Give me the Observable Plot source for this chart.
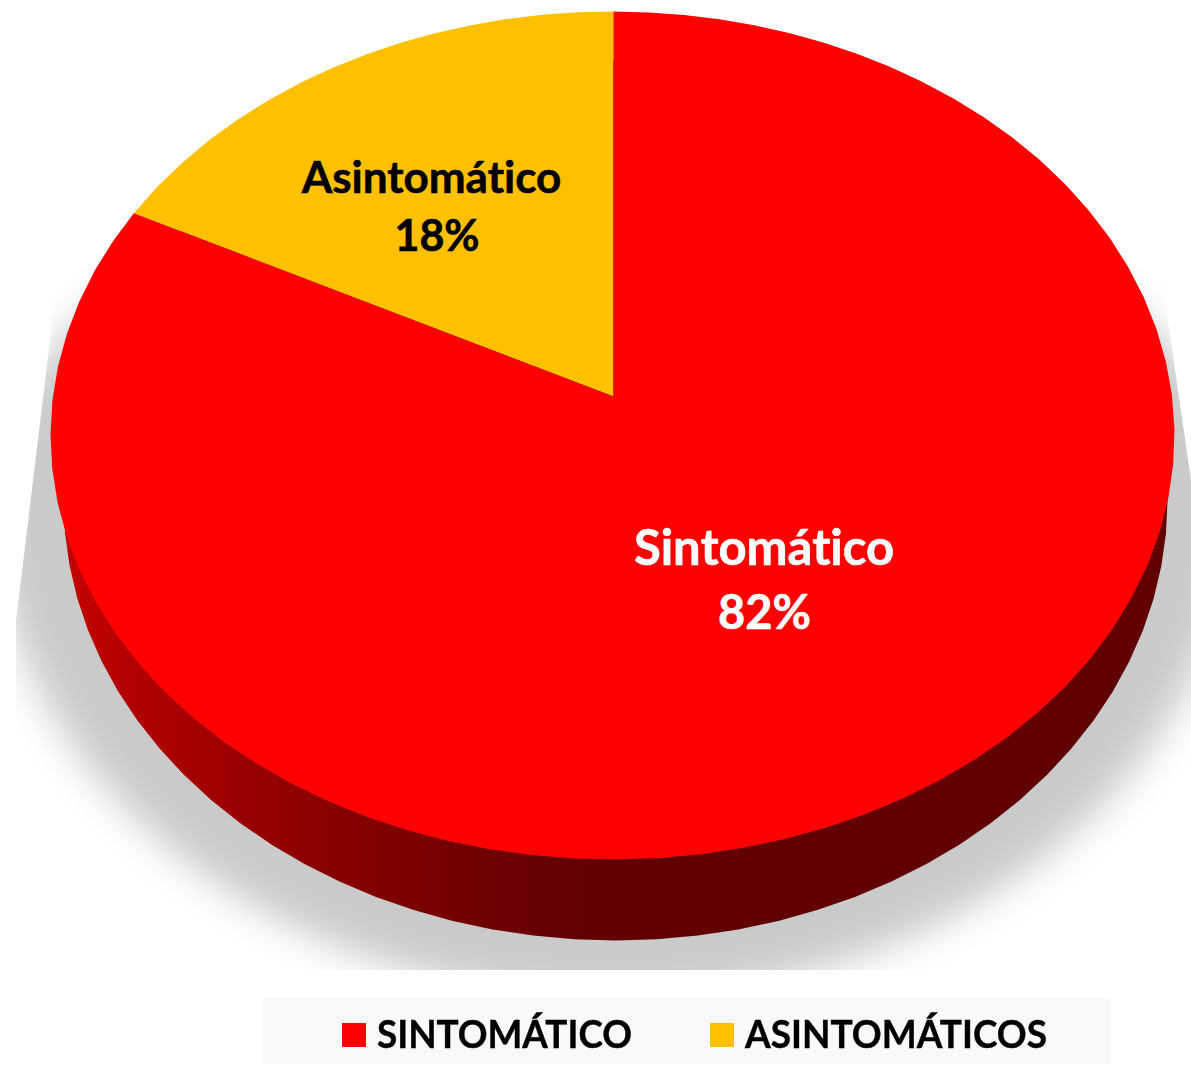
<!DOCTYPE html>
<html lang="es">
<head>
<meta charset="utf-8">
<script src="https://cdn.jsdelivr.net/npm/d3@7"></script>
<script src="https://cdn.jsdelivr.net/npm/@observablehq/plot@0.6"></script>
<style>
  html, body { margin: 0; padding: 0; background: #fff; }
  #chart svg { display: block; }
  #chart text { font-variant-ligatures: none; }
  #legend { position: absolute; left: 263px; top: 998px; width: 848px; height: 67px; background: #f9f9f9;
    font: 700 38px Lato, sans-serif; color: #000; font-variant-ligatures: none; -webkit-text-stroke: 0.4px #000; }
  #legend i { position: absolute; top: 25px; width: 24px; height: 24px; }
  #legend span { position: absolute; top: 12px; white-space: nowrap; transform-origin: 0 50%; }
</style>
</head>
<body>
<div id="chart"></div>
<div id="legend"></div>
<script>
// Data
const categories = ["Sintomático", "Asintomático"];
const shares = [82, 18];
const colors = ["#ff0000", "#ffc000"];
const labelColors = ["#ffffff", "#000000"];
const legendLabels = ["SINTOMÁTICO", "ASINTOMÁTICOS"];

// View geometry of the tilted pie, in pixels
const W = 1191, H = 998;
const top_ = {cx: 612, cy: 435, rx: 562, ry: 424};
const apexPx = {x: 613, y: 396};
const aspect = 1.232;
const bottom_ = {cx: 615, cy: 500, rx: 552, ry: 440};
const shadow_ = {cx: 612, cy: 500, rx: 620, ryLower: 497, ryUpper: 350};

// Walk the rim: ray from apex through the tilted angle, cut against the top ellipse
function rimPoint(angle) {
  const dx = -Math.sin(angle) * aspect, dy = -Math.cos(angle);
  const ox = apexPx.x - top_.cx, oy = apexPx.y - top_.cy;
  const a = (dx / top_.rx) ** 2 + (dy / top_.ry) ** 2;
  const b = 2 * (ox * dx / top_.rx ** 2 + oy * dy / top_.ry ** 2);
  const c = (ox / top_.rx) ** 2 + (oy / top_.ry) ** 2 - 1;
  const t = (-b + Math.sqrt(b * b - 4 * a * c)) / (2 * a);
  return {x: apexPx.x + t * dx, y: apexPx.y + t * dy};
}
const total = d3.sum(shares);
const slices = [];
// Yellow runs counter-clockwise from 12 o'clock, red fills the rest
const order = [1, 0];
let start = 0;
for (const i of order) {
  const end = start + shares[i] / total * 2 * Math.PI;
  const n = Math.max(4, Math.round((end - start) / (2 * Math.PI) * 84));
  slices.push({category: categories[i], ...apexPx});
  for (let k = 0; k <= n; ++k) {
    slices.push({category: categories[i], ...rimPoint(start + (end - start) * k / n)});
  }
  start = end;
}
const ellipse = (e, n) => d3.range(n).map(k => ({
  x: e.cx + e.rx * Math.cos(k / n * 2 * Math.PI),
  y: e.cy + e.ry * Math.sin(k / n * 2 * Math.PI)
}));
const shadowOutline = d3.range(120).map(k => {
  const s = Math.sin(k / 120 * 2 * Math.PI);
  return {
    x: shadow_.cx + shadow_.rx * Math.cos(k / 120 * 2 * Math.PI),
    y: shadow_.cy + (s > 0 ? shadow_.ryLower : shadow_.ryUpper) * s
  };
});

const labelLayout = [
  {text: categories[0], x: 763.5, y: 549, size: 49, fill: labelColors[0]},
  {text: shares[0] + "%", x: 764, y: 613, size: 47, fill: labelColors[0]},
  {text: categories[1], x: 431, y: 178, size: 44, fill: labelColors[1]},
  {text: shares[1] + "%", x: 436.5, y: 237, size: 43, fill: labelColors[1]}
];

// Clip of the soft shadow, as in the source picture
const shadowClip = [[59, 266], [16, 621], [16, 970], [1191, 970], [1191, 480], [1160, 266]];

const gradient = () => {
  const defs = d3.create("svg:defs");
  const g = defs.append("linearGradient").attr("id", "sideShade")
    .attr("gradientUnits", "userSpaceOnUse").attr("x1", 50).attr("x2", 620).attr("y1", 0).attr("y2", 0);
  [[0, "#c80000"], [0.25, "#a40000"], [0.5, "#880000"], [0.75, "#700000"], [0.9, "#640000"], [1, "#600000"]]
    .forEach(([o, c]) => g.append("stop").attr("offset", o).attr("stop-color", c));
  const cp = defs.append("clipPath").attr("id", "shadowClip");
  cp.append("polygon").attr("points", shadowClip.join(" "));
  return defs.node();
};

const chart = Plot.plot({
  width: W, height: H, margin: 0,
  x: {axis: null, domain: [0, W], range: [0, W]},
  y: {axis: null, domain: [0, H], range: [0, H]},
  color: {domain: categories, range: colors},
  style: {background: "transparent", overflow: "visible"},
  marks: [
    gradient,
    Plot.line(shadowOutline, {
      x: "x", y: "y", fill: "#cacaca", stroke: "none", imageFilter: "blur(19px)",
      render(index, scales, values, dims, ctx, next) {
        const g = next(index, scales, values, dims, ctx);
        const wrap = d3.create("svg:g").attr("clip-path", "url(#shadowClip)");
        wrap.node().appendChild(g);
        return wrap.node();
      }
    }),
    Plot.line(ellipse(bottom_, 84), {x: "x", y: "y", fill: "url(#sideShade)", stroke: "none"}),
    Plot.line(slices, {x: "x", y: "y", fill: "category", stroke: "none"}),
    Plot.text(labelLayout, {
      x: "x", y: "y", text: "text", fill: d => d.fill, stroke: d => d.fill, strokeWidth: 0.6,
      fontSize: d => d.size, fontWeight: 700, fontFamily: "Lato, sans-serif", lineAnchor: "middle"
    })
  ]
});
document.getElementById("chart").append(chart);

// Legend below the SVG
const legend = d3.select("#legend");
const swatchX = [79, 447], textX = [114, 482], textW = [255, 302];
legendLabels.forEach((label, i) => {
  legend.append("i").style("left", swatchX[i] + "px").style("background", colors[i]);
  const s = legend.append("span").style("left", textX[i] + "px").text(label);
  const w = s.node().getBoundingClientRect().width;
  s.style("transform", `scaleX(${textW[i] / w})`);
});
</script>
</body>
</html>
